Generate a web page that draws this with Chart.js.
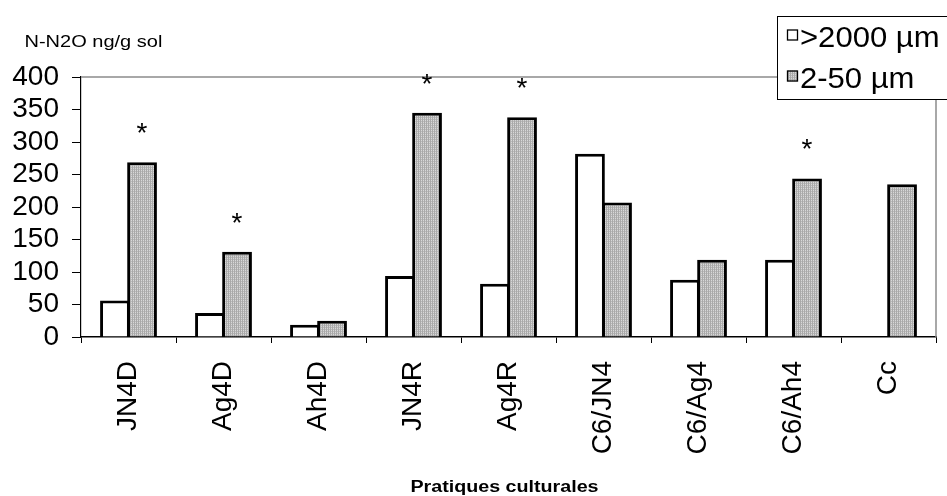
<!DOCTYPE html>
<html>
<head>
<meta charset="utf-8">
<script src="https://cdn.jsdelivr.net/npm/chart.js@4/dist/chart.umd.min.js"></script>
<style>
  html, body { margin: 0; padding: 0; background: #ffffff; }
  #wrap { width: 947px; height: 496px; position: relative; }
</style>
</head>
<body>
<div id="wrap"><canvas id="chart" width="947" height="496"></canvas></div>
<script>
// Cultural practices on the x axis
const categories = ['JN4D', 'Ag4D', 'Ah4D', 'JN4R', 'Ag4R', 'C6/JN4', 'C6/Ag4', 'C6/Ah4', 'Cc'];
// N-N2O (ng/g soil) per aggregate size fraction
const coarseFraction = [56, 37, 19, 94, 82, 282, 88, 119, null];   // >2000 µm
const fineFraction   = [269, 131, 25, 345, 338, 207, 119, 244, 235]; // 2-50 µm
// significant difference between fractions (asterisk above the fine fraction bar)
const significant = [true, true, false, true, true, false, false, true, false];
const seriesLabels = ['>2000 µm', '2-50 µm'];
const yAxisTitle = 'N-N2O ng/g sol';
const xAxisTitle = 'Pratiques culturales';
const yMin = 0, yMax = 400, yStep = 50;

const FONT = '"Liberation Sans", Arial, sans-serif';

// fine stippled grey fill
function stipple() {
  const c = document.createElement('canvas');
  c.width = 2; c.height = 2;
  const g = c.getContext('2d');
  g.fillStyle = '#d8d8d8'; g.fillRect(0, 0, 2, 2);
  g.fillStyle = '#a9a9a9'; g.fillRect(0, 0, 1, 2);
  g.fillStyle = '#b9b9b9'; g.fillRect(1, 1, 1, 1);
  return g.createPattern(c, 'repeat');
}
const greyFill = stipple();

const overlay = {
  id: 'overlay',
  afterDraw(chart) {
    const ctx = chart.ctx;
    const a = chart.chartArea;
    ctx.save();

    // grey plot-area frame (top and right)
    ctx.strokeStyle = '#8c8c8c';
    ctx.lineWidth = 1.5;
    ctx.beginPath();
    ctx.moveTo(a.left, a.top);
    ctx.lineTo(a.right, a.top);
    ctx.lineTo(a.right, a.bottom);
    ctx.stroke();

    // significance asterisks above the fine fraction bars
    const meta = chart.getDatasetMeta(1);
    ctx.fillStyle = '#000';
    ctx.font = '28px ' + FONT;
    ctx.textAlign = 'center';
    ctx.textBaseline = 'alphabetic';
    significant.forEach((s, i) => {
      if (!s) return;
      const bar = meta.data[i];
      ctx.fillText('*', bar.x, bar.y - 20);
    });

    // legend box
    const lx = 777.5, ly = 16.5, lw = 180, lh = 83;
    ctx.fillStyle = '#fff';
    ctx.fillRect(lx, ly, lw, lh);
    ctx.strokeStyle = '#000';
    ctx.lineWidth = 1;
    ctx.strokeRect(lx, ly, lw, lh);
    const rows = [35, 76];
    chart.data.datasets.forEach((ds, i) => {
      const cy = rows[i];
      ctx.fillStyle = ds.backgroundColor;
      ctx.fillRect(787, cy - 5.5, 11, 11);
      ctx.strokeStyle = '#000';
      ctx.lineWidth = 1.3;
      ctx.strokeRect(787.5, cy - 5, 10, 10);
      ctx.save();
      ctx.translate(800, cy + 4);
      ctx.scale(1.07, 1);
      ctx.fillStyle = '#000';
      ctx.font = '29px ' + FONT;
      ctx.textAlign = 'left';
      ctx.textBaseline = 'middle';
      ctx.fillText(ds.label, 0, 0);
      ctx.restore();
    });

    // axis titles
    ctx.fillStyle = '#000';
    ctx.textBaseline = 'alphabetic';
    ctx.save();
    ctx.translate(24.5, 46.5);
    ctx.scale(1.25, 1);
    ctx.font = '16px ' + FONT;
    ctx.textAlign = 'left';
    ctx.fillText(yAxisTitle, 0, 0);
    ctx.restore();

    ctx.save();
    ctx.translate(504.5, 491.5);
    ctx.scale(1.23, 1);
    ctx.font = 'bold 16px ' + FONT;
    ctx.textAlign = 'center';
    ctx.fillText(xAxisTitle, 0, 0);
    ctx.restore();

    ctx.restore();
  }
};

new Chart(document.getElementById('chart'), {
  type: 'bar',
  data: {
    labels: categories,
    datasets: [
      {
        label: seriesLabels[0],
        data: coarseFraction,
        backgroundColor: '#ffffff',
        borderColor: '#000000',
        borderWidth: 3
      },
      {
        label: seriesLabels[1],
        data: fineFraction,
        backgroundColor: greyFill,
        borderColor: '#000000',
        borderWidth: 3
      }
    ]
  },
  options: {
    responsive: false,
    animation: false,
    events: [],
    datasets: {
      bar: { categoryPercentage: 0.57, barPercentage: 1.1 }
    },
    layout: { padding: { top: 77, right: 11, left: 0, bottom: 0 } },
    plugins: {
      legend: { display: false },
      title: { display: false },
      tooltip: { enabled: false }
    },
    scales: {
      x: {
        offset: true,
        grid: { offset: true, drawOnChartArea: false, drawTicks: true, tickLength: 6, color: '#000' },
        border: { display: true, color: '#000', width: 1.5 },
        ticks: {
          color: '#000',
          font: { family: FONT, size: 28 },
          minRotation: 90,
          maxRotation: 90,
          autoSkip: false,
          padding: 18
        },
        afterFit(scale) { scale.height = 159; }
      },
      y: {
        min: yMin,
        max: yMax,
        grid: { drawOnChartArea: false, drawTicks: true, tickLength: 9, color: '#000' },
        border: { display: true, color: '#000', width: 1.2 },
        ticks: {
          stepSize: yStep,
          autoSkip: false,
          color: '#000',
          font: { family: FONT, size: 28 },
          padding: 13
        },
        afterFit(scale) { scale.width = 81; }
      }
    }
  },
  plugins: [overlay]
});
</script>
</body>
</html>
